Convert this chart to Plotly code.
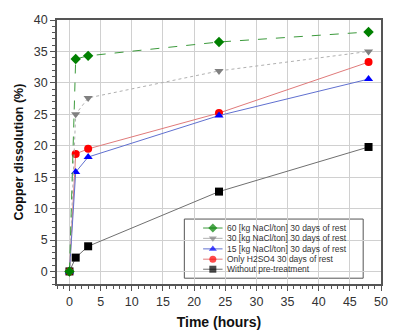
import plotly.graph_objects as go

time_h = [0, 1, 3, 24, 48]
nacl60 = [0, 33.8, 34.3, 36.5, 38.1]
nacl30 = [0, 25.0, 27.6, 31.9, 35.0]
nacl15 = [0, 15.8, 18.2, 24.8, 30.6]
h2so4 = [0, 18.7, 19.5, 25.2, 33.3]
no_pre = [0, 2.2, 4.0, 12.7, 19.8]

names = ["60 [kg NaCl/ton] 30 days of rest",
         "30 [kg NaCl/ton] 30 days of rest",
         "15 [kg NaCl/ton] 30 days of rest",
         "Only H2SO4 30 days of rest",
         "Without pre-treatment"]

series = [nacl60, nacl30, nacl15, h2so4, no_pre]
marker_colors = ["#008000", "#808080", "#0000ff", "#ff0000", "#000000"]
line_colors = ["#3c9a3c", "#b0b0b0", "#6070d0", "#e07a7a", "#707070"]
symbols = ["diamond", "triangle-down", "triangle-up", "circle", "square"]
dashes = ["dash", "dot", "solid", "solid", "solid"]

FONT = "Liberation Sans, Arial"

fig = go.Figure()
for i in reversed(range(5)):
    fig.add_trace(go.Scatter(
        x=time_h, y=series[i], name=names[i], mode="lines+markers",
        line=dict(color=line_colors[i], width=1, dash=dashes[i]),
        marker=dict(color=marker_colors[i], symbol=symbols[i], size=8,
                    line=dict(width=0)),
        showlegend=False,
    ))

# custom compact legend (box, sample glyphs, labels)
leg_x0, leg_x1, leg_y0, leg_y1 = 0.393, 0.945, 0.022, 0.246
row_y = [0.212, 0.173, 0.133, 0.094, 0.056]
glyph_x = [0.451, 0.481, 0.511]
text_x = 0.52

fig.add_shape(type="rect", xref="paper", yref="paper",
              x0=leg_x0, x1=leg_x1, y0=leg_y0, y1=leg_y1,
              fillcolor="white", line=dict(color="#555555", width=1),
              layer="between")

for i in range(5):
    fig.add_trace(go.Scatter(
        x=glyph_x, y=[row_y[i]] * 3, xaxis="x2", yaxis="y2",
        mode="lines+markers", hoverinfo="skip", showlegend=False,
        line=dict(color=line_colors[i], width=1, dash="solid"),
        marker=dict(color=marker_colors[i], symbol=symbols[i],
                    size=[0, 7, 0], line=dict(width=0)),
    ))
    fig.add_annotation(x=text_x, y=row_y[i], xref="paper", yref="paper",
                       text=names[i], showarrow=False, xanchor="left",
                       yanchor="middle",
                       font=dict(family=FONT, size=8.5, color="#333333"))

axis_common = dict(
    showgrid=True, gridcolor="#d0d0d0", gridwidth=1,
    showline=True, linecolor="#555555", linewidth=1.5, mirror=True,
    ticks="outside", ticklen=5, tickwidth=1, tickcolor="#555555",
    tickfont=dict(family=FONT, size=12.5, color="#333333"),
    zeroline=False,
    minor=dict(ticks="outside", ticklen=3, tickcolor="#555555", showgrid=False),
)

fig.update_layout(
    width=395, height=335,
    margin=dict(l=57, r=7, t=20, b=43),
    paper_bgcolor="white", plot_bgcolor="white",
    showlegend=False,
    xaxis=dict(range=[-2, 50], tick0=0, dtick=5,
               title=dict(text="<b>Time (hours)</b>", standoff=9,
                          font=dict(family=FONT, size=14, color="#111111")),
               **axis_common),
    yaxis=dict(range=[-2, 40], tick0=0, dtick=5,
               title=dict(text="<b>Copper dissolution (%)</b>", standoff=7,
                          font=dict(family=FONT, size=12.5, color="#111111")),
               **axis_common),
    xaxis2=dict(overlaying="x", range=[0, 1], visible=False, fixedrange=True),
    yaxis2=dict(overlaying="y", range=[0, 1], visible=False, fixedrange=True),
)

fig.write_html("out.html",
               config={"displayModeBar": False},
               post_script="document.body.style.margin='0';document.body.style.overflow='hidden';")
